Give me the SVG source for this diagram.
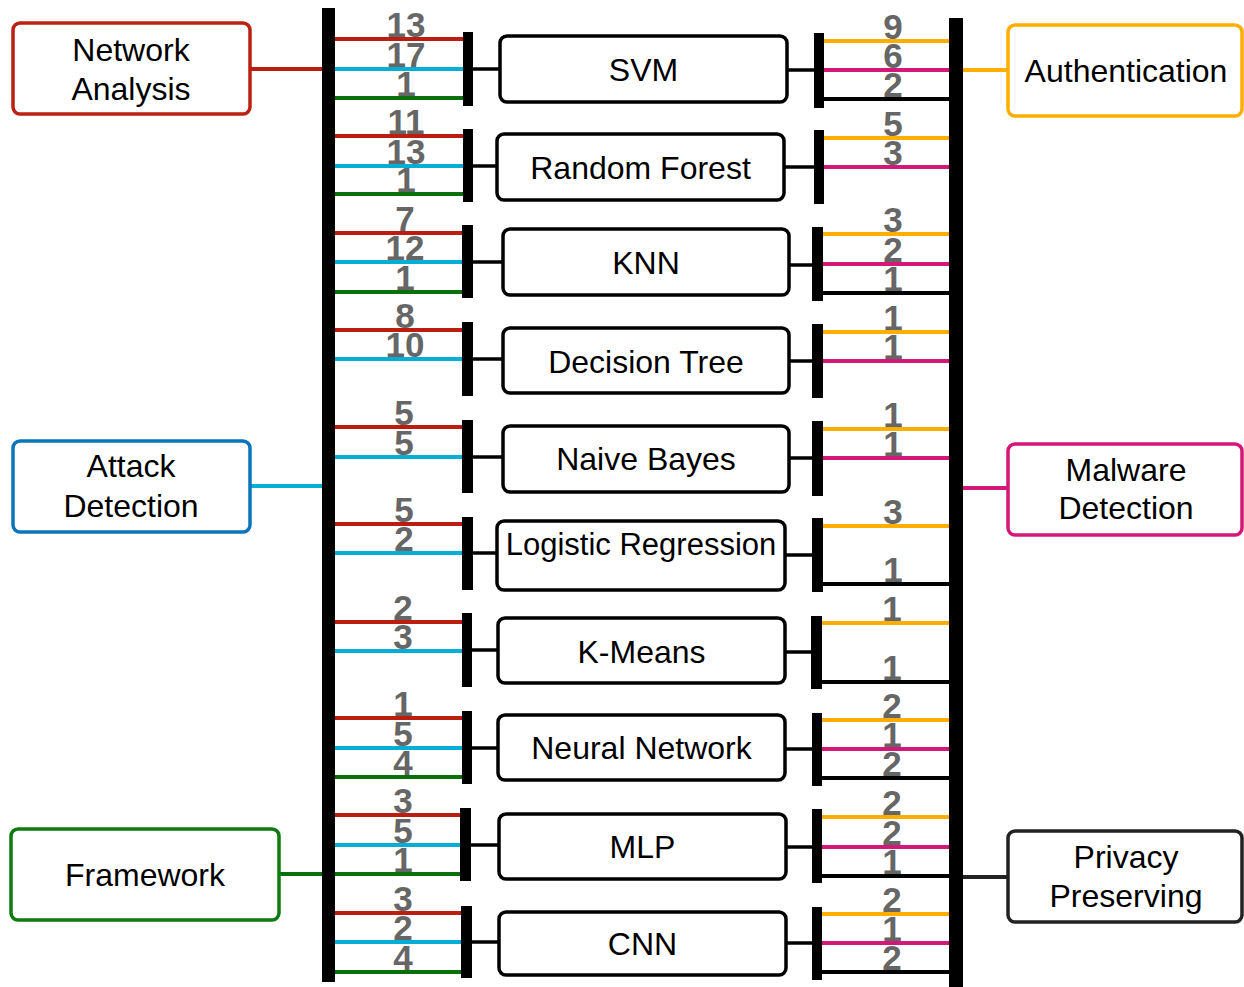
<svg xmlns="http://www.w3.org/2000/svg" width="1244" height="987" viewBox="0 0 1244 987">
<style>
.bg{fill:#fff}
.bar{fill:#000}
.box{fill:#fff;stroke:#000;stroke-width:3.5}
.lbl{font-family:"Liberation Sans",Arial,sans-serif;font-size:32px;fill:#000;text-anchor:middle}
.num{font-family:"Liberation Sans",Arial,sans-serif;font-size:35px;font-weight:bold;fill:#666;text-anchor:middle}
.r{stroke:#bb1e10;stroke-width:4}
.b{stroke:#06aed5;stroke-width:4}
.g{stroke:#0b700b;stroke-width:4}
.o{stroke:#ffae00;stroke-width:4}
.p{stroke:#d3187a;stroke-width:4}
.k{stroke:#000;stroke-width:4}
.c{stroke:#000;stroke-width:3.5}
.ext{fill:#fff;stroke-width:3.5}
</style>
<rect class="bg" x="0" y="0" width="1244" height="987"/>

<g id="connectors">
  <!-- external -->
  <line x1="251" y1="69" x2="324" y2="69" class="r"/>
  <line x1="250" y1="486" x2="324" y2="486" class="b"/>
  <line x1="279" y1="874" x2="324" y2="874" class="g"/>
  <line x1="961" y1="70" x2="1008" y2="70" class="o"/>
  <line x1="961" y1="488" x2="1008" y2="488" class="p"/>
  <line x1="961" y1="877" x2="1008" y2="877" style="stroke:#222;stroke-width:4"/>
  <!-- SVM -->
  <line x1="335" y1="39" x2="463" y2="39" class="r"/>
  <line x1="335" y1="69" x2="463" y2="69" class="b"/>
  <line x1="335" y1="98" x2="463" y2="98" class="g"/>
  <line x1="473" y1="69" x2="500" y2="69" class="c"/>
  <line x1="787" y1="70" x2="814" y2="70" class="c"/>
  <line x1="824" y1="41" x2="949" y2="41" class="o"/>
  <line x1="824" y1="70" x2="949" y2="70" class="p"/>
  <line x1="824" y1="99" x2="949" y2="99" class="k"/>
  <!-- RF -->
  <line x1="335" y1="136" x2="463" y2="136" class="r"/>
  <line x1="335" y1="166" x2="463" y2="166" class="b"/>
  <line x1="335" y1="194" x2="463" y2="194" class="g"/>
  <line x1="473" y1="166" x2="497" y2="166" class="c"/>
  <line x1="784" y1="167" x2="814" y2="167" class="c"/>
  <line x1="824" y1="138" x2="949" y2="138" class="o"/>
  <line x1="824" y1="167" x2="949" y2="167" class="p"/>
  <!-- KNN -->
  <line x1="335" y1="233" x2="462" y2="233" class="r"/>
  <line x1="335" y1="262" x2="462" y2="262" class="b"/>
  <line x1="335" y1="292" x2="462" y2="292" class="g"/>
  <line x1="473" y1="262" x2="503" y2="262" class="c"/>
  <line x1="789" y1="265" x2="812" y2="265" class="c"/>
  <line x1="822" y1="234" x2="949" y2="234" class="o"/>
  <line x1="822" y1="264" x2="949" y2="264" class="p"/>
  <line x1="822" y1="293" x2="949" y2="293" class="k"/>
  <!-- DT -->
  <line x1="335" y1="330" x2="462" y2="330" class="r"/>
  <line x1="335" y1="359" x2="462" y2="359" class="b"/>
  <line x1="473" y1="359" x2="503" y2="359" class="c"/>
  <line x1="789" y1="361" x2="812" y2="361" class="c"/>
  <line x1="822" y1="332" x2="949" y2="332" class="o"/>
  <line x1="822" y1="361" x2="949" y2="361" class="p"/>
  <!-- NB -->
  <line x1="335" y1="427" x2="462" y2="427" class="r"/>
  <line x1="335" y1="457" x2="462" y2="457" class="b"/>
  <line x1="473" y1="457" x2="503" y2="457" class="c"/>
  <line x1="789" y1="458" x2="812" y2="458" class="c"/>
  <line x1="822" y1="429" x2="949" y2="429" class="o"/>
  <line x1="822" y1="458" x2="949" y2="458" class="p"/>
  <!-- LR -->
  <line x1="335" y1="524" x2="462" y2="524" class="r"/>
  <line x1="335" y1="553" x2="462" y2="553" class="b"/>
  <line x1="473" y1="553" x2="497" y2="553" class="c"/>
  <line x1="785" y1="555" x2="812" y2="555" class="c"/>
  <line x1="822" y1="526" x2="949" y2="526" class="o"/>
  <line x1="822" y1="584" x2="949" y2="584" class="k"/>
  <!-- KM -->
  <line x1="335" y1="622" x2="462" y2="622" class="r"/>
  <line x1="335" y1="651" x2="462" y2="651" class="b"/>
  <line x1="472" y1="650" x2="498" y2="650" class="c"/>
  <line x1="785" y1="652" x2="811" y2="652" class="c"/>
  <line x1="821" y1="623" x2="949" y2="623" class="o"/>
  <line x1="821" y1="682" x2="949" y2="682" class="k"/>
  <!-- NN -->
  <line x1="335" y1="718" x2="462" y2="718" class="r"/>
  <line x1="335" y1="748" x2="462" y2="748" class="b"/>
  <line x1="335" y1="777" x2="462" y2="777" class="g"/>
  <line x1="472" y1="748" x2="498" y2="748" class="c"/>
  <line x1="785" y1="749" x2="812" y2="749" class="c"/>
  <line x1="822" y1="720" x2="949" y2="720" class="o"/>
  <line x1="822" y1="749" x2="949" y2="749" class="p"/>
  <line x1="822" y1="778" x2="949" y2="778" class="k"/>
  <!-- MLP -->
  <line x1="335" y1="815" x2="460" y2="815" class="r"/>
  <line x1="335" y1="845" x2="460" y2="845" class="b"/>
  <line x1="335" y1="874" x2="460" y2="874" class="g"/>
  <line x1="471" y1="845" x2="499" y2="845" class="c"/>
  <line x1="786" y1="847" x2="812" y2="847" class="c"/>
  <line x1="822" y1="817" x2="949" y2="817" class="o"/>
  <line x1="822" y1="847" x2="949" y2="847" class="p"/>
  <line x1="822" y1="876" x2="949" y2="876" class="k"/>
  <!-- CNN -->
  <line x1="335" y1="913" x2="461" y2="913" class="r"/>
  <line x1="335" y1="942" x2="461" y2="942" class="b"/>
  <line x1="335" y1="972" x2="461" y2="972" class="g"/>
  <line x1="472" y1="942" x2="499" y2="942" class="c"/>
  <line x1="786" y1="943" x2="812" y2="943" class="c"/>
  <line x1="822" y1="914" x2="949" y2="914" class="o"/>
  <line x1="822" y1="943" x2="949" y2="943" class="p"/>
  <line x1="822" y1="972" x2="949" y2="972" class="k"/>
</g>

<g id="bars">
  <rect class="bar" x="322" y="8" width="13" height="974"/>
  <rect class="bar" x="949" y="18" width="14" height="969"/>
  <rect class="bar" x="463" y="32" width="10" height="74"/>
  <rect class="bar" x="814" y="33" width="10" height="75"/>
  <rect class="bar" x="463" y="129" width="10" height="73"/>
  <rect class="bar" x="814" y="130" width="10" height="74"/>
  <rect class="bar" x="462" y="225" width="11" height="73"/>
  <rect class="bar" x="812" y="227" width="11" height="74"/>
  <rect class="bar" x="462" y="322" width="11" height="74"/>
  <rect class="bar" x="812" y="324" width="11" height="74"/>
  <rect class="bar" x="462" y="420" width="11" height="73"/>
  <rect class="bar" x="812" y="421" width="11" height="75"/>
  <rect class="bar" x="462" y="517" width="11" height="73"/>
  <rect class="bar" x="812" y="518" width="11" height="74"/>
  <rect class="bar" x="462" y="613" width="10" height="74"/>
  <rect class="bar" x="811" y="616" width="11" height="73"/>
  <rect class="bar" x="462" y="711" width="10" height="73"/>
  <rect class="bar" x="812" y="713" width="10" height="73"/>
  <rect class="bar" x="460" y="808" width="11" height="73"/>
  <rect class="bar" x="812" y="809" width="10" height="74"/>
  <rect class="bar" x="461" y="906" width="11" height="72"/>
  <rect class="bar" x="812" y="907" width="10" height="73"/>
</g>

<g id="counts">
  <text class="num" x="406" y="37">13</text>
  <text class="num" x="406" y="67">17</text>
  <text class="num" x="406" y="96">1</text>
  <text class="num" x="893" y="39">9</text>
  <text class="num" x="893" y="68">6</text>
  <text class="num" x="893" y="97">2</text>
  <text class="num" x="406" y="134">11</text>
  <text class="num" x="406" y="164">13</text>
  <text class="num" x="406" y="192">1</text>
  <text class="num" x="893" y="136">5</text>
  <text class="num" x="893" y="165">3</text>
  <text class="num" x="405" y="231">7</text>
  <text class="num" x="405" y="260">12</text>
  <text class="num" x="405" y="290">1</text>
  <text class="num" x="893" y="232">3</text>
  <text class="num" x="893" y="262">2</text>
  <text class="num" x="893" y="291">1</text>
  <text class="num" x="405" y="328">8</text>
  <text class="num" x="405" y="357">10</text>
  <text class="num" x="893" y="330">1</text>
  <text class="num" x="893" y="359">1</text>
  <text class="num" x="404" y="425">5</text>
  <text class="num" x="404" y="455">5</text>
  <text class="num" x="893" y="427">1</text>
  <text class="num" x="893" y="456">1</text>
  <text class="num" x="404" y="522">5</text>
  <text class="num" x="404" y="551">2</text>
  <text class="num" x="893" y="524">3</text>
  <text class="num" x="893" y="582">1</text>
  <text class="num" x="403" y="620">2</text>
  <text class="num" x="403" y="649">3</text>
  <text class="num" x="892" y="621">1</text>
  <text class="num" x="892" y="680">1</text>
  <text class="num" x="403" y="716">1</text>
  <text class="num" x="403" y="746">5</text>
  <text class="num" x="403" y="775">4</text>
  <text class="num" x="892" y="718">2</text>
  <text class="num" x="892" y="747">1</text>
  <text class="num" x="892" y="776">2</text>
  <text class="num" x="403" y="813">3</text>
  <text class="num" x="403" y="843">5</text>
  <text class="num" x="403" y="872">1</text>
  <text class="num" x="892" y="815">2</text>
  <text class="num" x="892" y="845">2</text>
  <text class="num" x="892" y="874">1</text>
  <text class="num" x="403" y="911">3</text>
  <text class="num" x="403" y="940">2</text>
  <text class="num" x="403" y="970">4</text>
  <text class="num" x="892" y="912">2</text>
  <text class="num" x="892" y="941">1</text>
  <text class="num" x="892" y="970">2</text>
</g>

<g id="svm"><rect class="box" x="500" y="36" width="287" height="66" rx="7"/><text class="lbl" x="643.5" y="81">SVM</text></g>
<g id="random-forest"><rect class="box" x="497" y="134" width="287" height="66" rx="7"/><text class="lbl" x="640.5" y="179">Random Forest</text></g>
<g id="knn"><rect class="box" x="503" y="229" width="286" height="66" rx="7"/><text class="lbl" x="646" y="274">KNN</text></g>
<g id="decision-tree"><rect class="box" x="503" y="328" width="286" height="65" rx="7"/><text class="lbl" x="646" y="373">Decision Tree</text></g>
<g id="naive-bayes"><rect class="box" x="503" y="426" width="286" height="66" rx="7"/><text class="lbl" x="646" y="470">Naive Bayes</text></g>
<g id="logistic-regression"><rect class="box" x="497" y="521" width="288" height="69" rx="7"/><text class="lbl" x="641" y="555" style="font-size:31px">Logistic Regression</text></g>
<g id="k-means"><rect class="box" x="498" y="618" width="287" height="65" rx="7"/><text class="lbl" x="641.5" y="663">K-Means</text></g>
<g id="neural-network"><rect class="box" x="498" y="715" width="287" height="65" rx="7"/><text class="lbl" x="641.5" y="759">Neural Network</text></g>
<g id="mlp"><rect class="box" x="499" y="814" width="287" height="65" rx="7"/><text class="lbl" x="642.5" y="858">MLP</text></g>
<g id="cnn"><rect class="box" x="499" y="912" width="287" height="63" rx="7"/><text class="lbl" x="642.5" y="955">CNN</text></g>

<g id="network-analysis"><rect class="ext" x="13" y="23" width="237" height="91" rx="7" stroke="#bb2012"/><text class="lbl" x="131" y="61">Network</text><text class="lbl" x="131" y="100">Analysis</text></g>
<g id="attack-detection"><rect class="ext" x="13" y="441" width="237" height="91" rx="7" stroke="#0b75ba"/><text class="lbl" x="131" y="477">Attack</text><text class="lbl" x="131" y="517">Detection</text></g>
<g id="framework"><rect class="ext" x="11" y="829" width="268" height="91" rx="7" stroke="#0e7a10"/><text class="lbl" x="145" y="886">Framework</text></g>
<g id="authentication"><rect class="ext" x="1008" y="25" width="234" height="91" rx="7" stroke="#ffae00"/><text class="lbl" x="1126" y="82">Authentication</text></g>
<g id="malware-detection"><rect class="ext" x="1008" y="444" width="234" height="91" rx="7" stroke="#d3187a"/><text class="lbl" x="1126" y="481">Malware</text><text class="lbl" x="1126" y="519">Detection</text></g>
<g id="privacy-preserving"><rect class="ext" x="1008" y="831" width="234" height="91" rx="7" stroke="#222"/><text class="lbl" x="1126" y="868">Privacy</text><text class="lbl" x="1126" y="907">Preserving</text></g>
</svg>
